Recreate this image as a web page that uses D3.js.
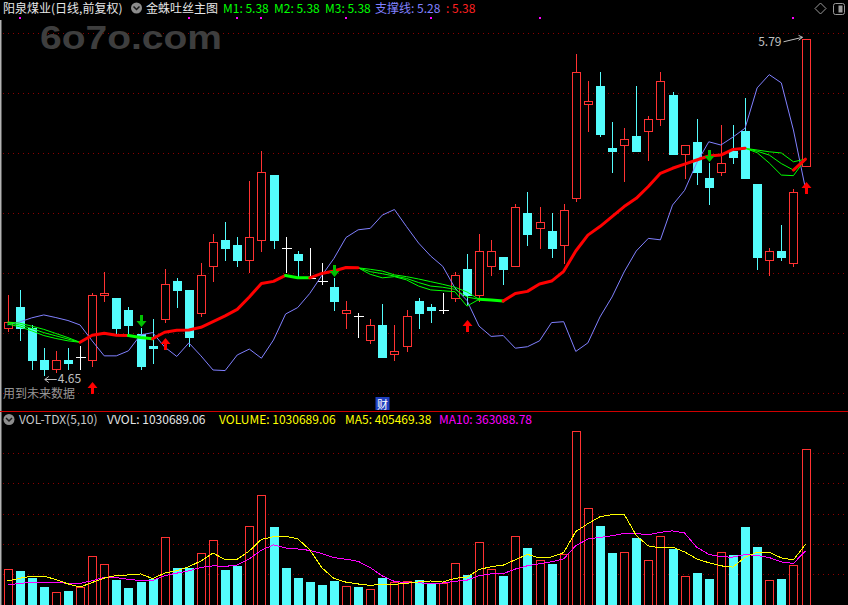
<!DOCTYPE html>
<html>
<head>
<meta charset="utf-8">
<style>
  html, body { margin: 0; padding: 0; background: #000; overflow: hidden; }
  svg { display: block; }
  text { font-family: "Noto Sans CJK SC", "Noto Sans", sans-serif; font-size: 12px; }
</style>
<script src="https://d3js.org/d3.v7.min.js"></script>
</head>
<body>
<script>
// ---- daily bars, oldest first ----
const opens  = [4.81, 4.88, 4.81, 4.70, 4.67, 4.70, 4.71, 4.70, 4.92, 4.91,
                4.87, 4.79, 4.75, 4.84, 4.97, 4.94, 4.86, 5.02, 5.11, 5.09,
                5.04, 5.11, 5.33, 5.08, 5.06, 4.98, 4.97, 4.95, 4.86, 4.85,
                4.77, 4.82, 4.72, 4.75, 4.90, 4.88, 4.87, 4.91, 5.01, 4.92,
                5.02, 5.05, 5.02, 5.20, 5.15, 5.14, 5.09, 5.25, 5.57, 5.63,
                5.42, 5.43, 5.46, 5.48, 5.52, 5.60, 5.40, 5.44, 5.32, 5.34,
                5.41, 5.48, 5.30, 5.04, 5.07, 5.03, 5.36];
const highs  = [4.92, 4.94, 4.82, 4.74, 4.73, 4.74, 4.75, 4.93, 5.00, 4.91,
                4.88, 4.81, 4.84, 5.01, 4.98, 4.94, 5.03, 5.13, 5.17, 5.12,
                5.31, 5.41, 5.33, 5.12, 5.07, 5.08, 5.03, 4.98, 4.90, 4.86,
                4.84, 4.89, 4.82, 4.87, 4.91, 4.89, 4.93, 5.00, 5.06, 5.13,
                5.11, 5.05, 5.23, 5.27, 5.22, 5.20, 5.23, 5.74, 5.65, 5.68,
                5.51, 5.49, 5.63, 5.53, 5.68, 5.61, 5.43, 5.52, 5.37, 5.50,
                5.50, 5.59, 5.30, 5.08, 5.16, 5.28, 5.79];
const lows   = [4.80, 4.77, 4.67, 4.65, 4.66, 4.67, 4.67, 4.68, 4.90, 4.79,
                4.79, 4.67, 4.69, 4.83, 4.88, 4.75, 4.85, 4.97, 5.04, 5.02,
                5.00, 5.07, 5.08, 5.00, 4.98, 4.98, 4.96, 4.87, 4.81, 4.78,
                4.76, 4.71, 4.70, 4.73, 4.81, 4.83, 4.86, 4.90, 4.89, 4.90,
                4.99, 4.96, 5.02, 5.09, 5.08, 5.05, 5.03, 5.24, 5.48, 5.46,
                5.34, 5.31, 5.41, 5.38, 5.50, 5.40, 5.32, 5.30, 5.23, 5.33,
                5.37, 5.32, 5.01, 4.99, 5.04, 5.02, 5.36];
const closes = [4.83, 4.81, 4.70, 4.67, 4.70, 4.69, 4.71, 4.92, 4.93, 4.81,
                4.82, 4.68, 4.74, 4.96, 4.94, 4.78, 4.99, 5.10, 5.08, 5.04,
                5.12, 5.34, 5.11, 5.08, 5.04, 4.98, 4.97, 4.90, 4.87, 4.85,
                4.82, 4.71, 4.73, 4.85, 4.86, 4.87, 4.87, 4.99, 4.92, 5.07,
                5.07, 5.01, 5.22, 5.13, 5.17, 5.08, 5.21, 5.68, 5.58, 5.47,
                5.41, 5.45, 5.41, 5.52, 5.65, 5.40, 5.43, 5.34, 5.29, 5.37,
                5.39, 5.32, 5.05, 5.07, 5.05, 5.27, 5.79];
const volumes = [241500, 230300, 182300, 127000, 90200, 98700, 127000, 329000, 274400, 171100,
                 120400, 159900, 175700, 454100, 252100, 252100, 348800, 434300, 236900, 265200,
                 526500, 730500, 519900, 252100, 186200, 159900, 140200, 166500, 131600, 127000,
                 111900, 186200, 157900, 164500, 171100, 144800, 149400, 281000, 204000, 419200,
                 241500, 197400, 458700, 381700, 300700, 276400, 340200, 1149700, 643000, 526500,
                 348800, 353400, 447500, 300700, 460700, 375100, 197400, 215000, 176000, 358000,
                 334000, 520540.9, 385000, 168000, 176000, 267657.84, 1030689.06];
// volume averages for the first days (earlier history is off-screen)
const ma5Head  = [164500, 182000, 197000, 197000];
const ma10Head = [138000, 149000, 156000, 156000, 156000, 149000, 149000, 166500, 189000];

// 金蛛吐丝 indicator lines
const m1 = [4.830, 4.826, 4.816, 4.805, 4.791, 4.777, 4.761, 4.785, 4.792, 4.785,
            4.784, 4.777, 4.773, 4.795, 4.802, 4.803, 4.812, 4.831, 4.851, 4.873,
            4.915, 4.961, 4.968, 4.988, 4.980, 4.980, 4.995, 5.003, 5.015, 5.014,
            5.009, 5.003, 4.990, 4.984, 4.976, 4.967, 4.958, 4.948, 4.932, 4.907,
            4.905, 4.901, 4.927, 4.934, 4.959, 4.969, 5.002, 5.071, 5.125, 5.154,
            5.188, 5.222, 5.250, 5.290, 5.335, 5.352, 5.366, 5.380, 5.394, 5.397,
            5.416, 5.420, 5.414, 5.408, 5.404, 5.374, 5.383];
const m2 = [4.827, 4.820, 4.808, 4.794, 4.783, 4.772, 4.761, 4.785, 4.792, 4.785,
            4.784, 4.777, 4.773, 4.795, 4.802, 4.803, 4.812, 4.831, 4.851, 4.873,
            4.915, 4.961, 4.968, 4.988, 4.980, 4.980, 4.995, 5.003, 5.015, 5.014,
            5.001, 4.994, 4.986, 4.978, 4.964, 4.952, 4.948, 4.941, 4.915, 4.907,
            4.905, 4.901, 4.927, 4.934, 4.959, 4.969, 5.002, 5.071, 5.125, 5.154,
            5.188, 5.222, 5.250, 5.290, 5.335, 5.352, 5.366, 5.380, 5.394, 5.397,
            5.416, 5.420, 5.410, 5.397, 5.368, 5.346, 5.383];
const m3 = [4.823, 4.814, 4.800, 4.784, 4.774, 4.766, 4.761, 4.785, 4.792, 4.785,
            4.784, 4.777, 4.773, 4.795, 4.802, 4.803, 4.812, 4.831, 4.851, 4.873,
            4.915, 4.961, 4.968, 4.988, 4.980, 4.980, 4.995, 5.003, 5.015, 5.014,
            4.992, 4.980, 4.984, 4.973, 4.952, 4.939, 4.936, 4.933, 4.884, 4.907,
            4.905, 4.901, 4.927, 4.934, 4.959, 4.969, 5.002, 5.071, 5.125, 5.154,
            5.188, 5.222, 5.250, 5.290, 5.335, 5.352, 5.366, 5.380, 5.394, 5.397,
            5.416, 5.420, 5.405, 5.370, 5.329, 5.327, 5.383];
// state of the thick line on the step ending at each day: 0 hidden, 1 rising (red), 2 flat (green)
const spiderState = [0, 0, 0, 0, 0, 0, 0, 1, 1, 1,
                     1, 2, 2, 1, 1, 1, 1, 1, 1, 1,
                     1, 1, 1, 1, 2, 2, 1, 1, 1, 1,
                     0, 0, 0, 0, 0, 0, 0, 0, 0, 0,
                     2, 2, 1, 1, 1, 1, 1, 1, 1, 1,
                     1, 1, 1, 1, 1, 1, 1, 1, 1, 1,
                     1, 1, 0, 0, 0, 0, 1];
const support = [4.820, 4.830, 4.844, 4.854, 4.845, 4.835, 4.820, 4.766, 4.715, 4.715,
                 4.732, 4.786, 4.794, 4.745, 4.713, 4.759, 4.715, 4.667, 4.665, 4.718,
                 4.738, 4.707, 4.769, 4.857, 4.879, 4.927, 4.988, 5.046, 5.117, 5.143,
                 5.148, 5.193, 5.212, 5.154, 5.098, 5.054, 5.019, 4.946, 4.903, 4.816,
                 4.781, 4.784, 4.741, 4.746, 4.766, 4.828, 4.831, 4.730, 4.759, 4.847,
                 4.915, 5.000, 5.071, 5.114, 5.109, 5.227, 5.277, 5.370, 5.442, 5.431,
                 5.458, 5.488, 5.625, 5.670, 5.642, 5.482, 5.282];
const buyDays  = [7, 13, 38, 66];
const sellDays = [11, 27, 58];
const mineDays = [1, 15, 19, 21, 28, 35, 44, 65];
const reportDay = 31;

const W = 848, H = 605;
const RED = "#ff3232", CYAN = "#54fcfc", GRID = "#8c0000", GREEN = "#00ff00";
const n = closes.length;

const svg = d3.select("body").append("svg")
    .attr("width", W).attr("height", H)
    .style("background", "#000");

const x = d3.scaleLinear().domain([0, n - 1]).range([7.5, 805.5]);
const y = d3.scaleLinear().domain([d3.min(lows), d3.max(highs)]).range([375, 39.3]);
const yv = d3.scaleLinear().domain([0, d3.max(volumes)]).range([606, 431.3]);
const px = v => Math.round(v) + 0.5;

const bars = closes.map((c, i) => ({
    i, o: opens[i], h: highs[i], l: lows[i], c, v: volumes[i],
    dir: c > opens[i] ? 1 : (c < opens[i] ? -1 : 0),
    volUp: c > opens[i] || (c === opens[i] && c >= (i ? closes[i - 1] : c))
}));

// moving averages of volume
function volMA(len, head) {
    return volumes.map((v, i) => i < head.length ? head[i] : d3.mean(volumes.slice(i - len + 1, i + 1)));
}
const ma5 = volMA(5, ma5Head);
const ma10 = volMA(10, ma10Head);

// grid lines
const grid = svg.append("g").attr("stroke", GRID).attr("stroke-dasharray", "1,4");
d3.range(7).forEach(k => {
    grid.append("line").attr("x1", 3).attr("x2", W)
        .attr("y1", 33.5 + 60 * k).attr("y2", 33.5 + 60 * k);
});
d3.range(5).forEach(k => {
    const gy = Math.floor(453.5 + 30.25 * k) + 0.5;
    grid.append("line").attr("x1", 3).attr("x2", W).attr("y1", gy).attr("y2", gy);
});

// watermark (style() so the css font rule does not win)
svg.append("text")
    .attr("x", 40).attr("y", 48.5)
    .style("font-family", "'Liberation Sans', Arial, sans-serif")
    .style("font-weight", "bold")
    .style("font-size", "34px")
    .attr("textLength", 182).attr("lengthAdjust", "spacingAndGlyphs")
    .attr("fill", "#3e3e3e")
    .text("6o7o.com");

// frame lines
svg.append("line").attr("x1", 0.75).attr("x2", 0.75).attr("y1", 20).attr("y2", H)
    .attr("stroke", "#b4b4b4").attr("stroke-width", 1.5);
svg.append("line").attr("x1", 0).attr("x2", W).attr("y1", 411.5).attr("y2", 411.5)
    .attr("stroke", "#d00000");

// candles
const candles = svg.append("g").attr("shape-rendering", "crispEdges");
candles.selectAll(".wick").data(bars).join("line")
    .attr("class", "wick")
    .attr("x1", d => px(x(d.i))).attr("x2", d => px(x(d.i)))
    .attr("y1", d => Math.round(y(d.h))).attr("y2", d => Math.round(y(d.l)) + 1)
    .attr("stroke", d => d.dir > 0 ? RED : (d.dir < 0 ? CYAN : "#fff"));
candles.selectAll(".body").data(bars.filter(d => d.dir !== 0)).join("rect")
    .attr("class", "body")
    .attr("x", d => px(x(d.i) - 4))
    .attr("y", d => px(y(Math.max(d.o, d.c))))
    .attr("width", 8)
    .attr("height", d => Math.max(1, px(y(Math.min(d.o, d.c))) - px(y(Math.max(d.o, d.c)))))
    .attr("fill", d => d.dir > 0 ? "#000" : CYAN)
    .attr("stroke", d => d.dir > 0 ? RED : CYAN);
candles.selectAll(".doji").data(bars.filter(d => d.dir === 0)).join("line")
    .attr("class", "doji")
    .attr("x1", d => px(x(d.i)) - 5).attr("x2", d => px(x(d.i)) + 5)
    .attr("y1", d => px(y(d.c))).attr("y2", d => px(y(d.c)))
    .attr("stroke", "#fff");

// volume bars
const vol = svg.append("g").attr("shape-rendering", "crispEdges");
vol.selectAll("rect").data(bars).join("rect")
    .attr("x", d => px(x(d.i) - 4))
    .attr("y", d => px(yv(d.v)))
    .attr("width", 8)
    .attr("height", d => 610 - px(yv(d.v)))
    .attr("fill", d => d.volUp ? "#000" : CYAN)
    .attr("stroke", d => d.volUp ? RED : CYAN);

const lineV = d3.line().x((d, i) => x(i)).y(d => yv(d));
vol.append("path").attr("d", lineV(ma10)).attr("fill", "none").attr("stroke", "#ff00ff");
vol.append("path").attr("d", lineV(ma5)).attr("fill", "none").attr("stroke", "#ffff00");

// indicator lines
const lineP = d3.line().x((d, i) => x(i)).y(d => y(d));
const ind = svg.append("g").attr("fill", "none");
ind.append("path").attr("d", lineP(support)).attr("stroke", "#8080ff");
[m3, m2, m1].forEach(s => ind.append("path").attr("d", lineP(s)).attr("stroke", GREEN));

// thick line: consecutive steps of the same state drawn as one path
let runs = [];
for (let i = 1; i < n; i++) {
    const s = spiderState[i];
    if (!s) continue;
    const last = runs[runs.length - 1];
    if (last && last.state === s && last.end === i - 1) { last.end = i; }
    else runs.push({ state: s, start: i - 1, end: i });
}
ind.selectAll(".spider").data(runs).join("path")
    .attr("class", "spider")
    .attr("d", r => d3.line().x(i => x(i)).y(i => y(m2[i]))(d3.range(r.start, r.end + 1)))
    .attr("stroke", r => r.state === 1 ? "#ff0000" : GREEN)
    .attr("stroke-width", 3)
    .attr("stroke-linecap", "round").attr("stroke-linejoin", "round");

// buy / sell arrows
function arrowUp(cx, top) {
    return `M${cx},${top} L${cx + 5},${top + 6} L${cx + 1.5},${top + 6} L${cx + 1.5},${top + 12}` +
           ` L${cx - 1.5},${top + 12} L${cx - 1.5},${top + 6} L${cx - 5},${top + 6} Z`;
}
function arrowDown(cx, bot) {
    return `M${cx},${bot} L${cx + 5},${bot - 6} L${cx + 1.5},${bot - 6} L${cx + 1.5},${bot - 12}` +
           ` L${cx - 1.5},${bot - 12} L${cx - 1.5},${bot - 6} L${cx - 5},${bot - 6} Z`;
}
svg.selectAll(".buy").data(buyDays).join("path")
    .attr("class", "buy")
    .attr("d", i => arrowUp(px(x(i)), Math.round(y(lows[i])) + 16))
    .attr("fill", "#ff0000");
svg.selectAll(".sell").data(sellDays).join("path")
    .attr("class", "sell")
    .attr("d", i => arrowDown(px(x(i)), Math.round(y(highs[i])) - 1))
    .attr("fill", "#00c000");

// max / min labels
const iLow = lows.indexOf(d3.min(lows));
const iHigh = highs.indexOf(d3.max(highs));
const lx = x(iLow) + 1, ly = Math.round(y(lows[iLow])) + 4.5;
svg.append("path")
    .attr("d", `M${lx + 12},${ly} L${lx},${ly} M${lx + 4},${ly - 3} L${lx},${ly} L${lx + 4},${ly + 3}`)
    .attr("stroke", "#c0c0c0").attr("fill", "none");
svg.append("text").attr("x", lx + 13).attr("y", ly + 3)
    .attr("fill", "#c0c0c0").text(d3.min(lows).toFixed(2));
const hx = x(iHigh), hy = y(highs[iHigh]);
svg.append("text").attr("x", hx - 24).attr("y", hy + 7).attr("text-anchor", "end")
    .attr("fill", "#c0c0c0").text(d3.max(highs).toFixed(2));
svg.append("path")
    .attr("d", `M${hx - 22},${hy + 2.5} L${hx - 3},${hy - 2} M${hx - 7},${hy - 4} L${hx - 3},${hy - 2} L${hx - 7},${hy + 1}`)
    .attr("stroke", "#c0c0c0").attr("fill", "none");

svg.append("text").attr("x", 3).attr("y", 397.5).attr("fill", "#969696").text("用到未来数据");

// financial report marker
const rx = px(x(reportDay));
svg.append("rect").attr("x", rx - 7).attr("y", 397).attr("width", 14).attr("height", 13).attr("fill", "#1f3fbf");
svg.append("text").attr("x", rx).attr("y", 408.5).attr("text-anchor", "middle")
    .attr("fill", "#fff").style("font-size", "11px").text("财");

// info markers in the title bar
svg.selectAll(".mine").data(mineDays).join("rect")
    .attr("class", "mine")
    .attr("x", i => Math.round(x(i)) - 1).attr("y", 17).attr("width", 2).attr("height", 2)
    .attr("fill", "#ff00ff");

// title bar
function icon(cx, cy) {
    svg.append("circle").attr("cx", cx).attr("cy", cy).attr("r", 5.5).attr("fill", "#8c8c8c");
    svg.append("path").attr("d", `M${cx - 3},${cy - 1.5} L${cx},${cy + 1.5} L${cx + 3},${cy - 1.5}`)
        .attr("stroke", "#1a1a1a").attr("stroke-width", 1.5).attr("fill", "none");
}
const last = n - 1;
const title = [
    { t: "阳泉煤业(日线,前复权)", x: 3, c: "#e6e6e6" },
    { t: "金蛛吐丝主图", x: 146, c: "#e6e6e6" },
    { t: "M1: " + m1[last].toFixed(2), x: 223, c: GREEN },
    { t: "M2: " + m2[last].toFixed(2), x: 274, c: GREEN },
    { t: "M3: " + m3[last].toFixed(2), x: 325, c: GREEN },
    { t: "支撑线: " + support[last].toFixed(2), x: 375, c: "#8080ff" },
    { t: ": " + m2[last].toFixed(2), x: 446, c: "#ff2020" }
];
svg.selectAll(".title").data(title).join("text")
    .attr("class", "title")
    .attr("x", d => d.x).attr("y", 12.5).attr("fill", d => d.c).text(d => d.t);
icon(136.5, 8);

svg.append("path").attr("d", "M820.5,3 L826,8.5 L820.5,14 L815,8.5 Z")
    .attr("stroke", "#9a9a9a").attr("fill", "none");
svg.append("rect").attr("x", 833.5).attr("y", 3.5).attr("width", 11).attr("height", 11).attr("rx", 2)
    .attr("stroke", "#9a9a9a").attr("fill", "none");
svg.append("rect").attr("x", 838.5).attr("y", 5.5).attr("width", 4).attr("height", 7).attr("fill", "#9a9a9a");

// volume title
icon(9, 419.5);
const vtitle = [
    { t: "VOL-TDX(5,10)", x: 19, c: "#c8c8c8" },
    { t: "VVOL: " + volumes[last].toFixed(2), x: 107, c: "#e6e6e6" },
    { t: "VOLUME: " + volumes[last].toFixed(2), x: 219, c: "#ffff00" },
    { t: "MA5: " + ma5[last].toFixed(2), x: 345, c: "#ffff00" },
    { t: "MA10: " + ma10[last].toFixed(2), x: 439, c: "#ff00ff" }
];
svg.selectAll(".vtitle").data(vtitle).join("text")
    .attr("class", "vtitle")
    .attr("x", d => d.x).attr("y", 424).attr("fill", d => d.c).text(d => d.t);
</script>
</body>
</html>
